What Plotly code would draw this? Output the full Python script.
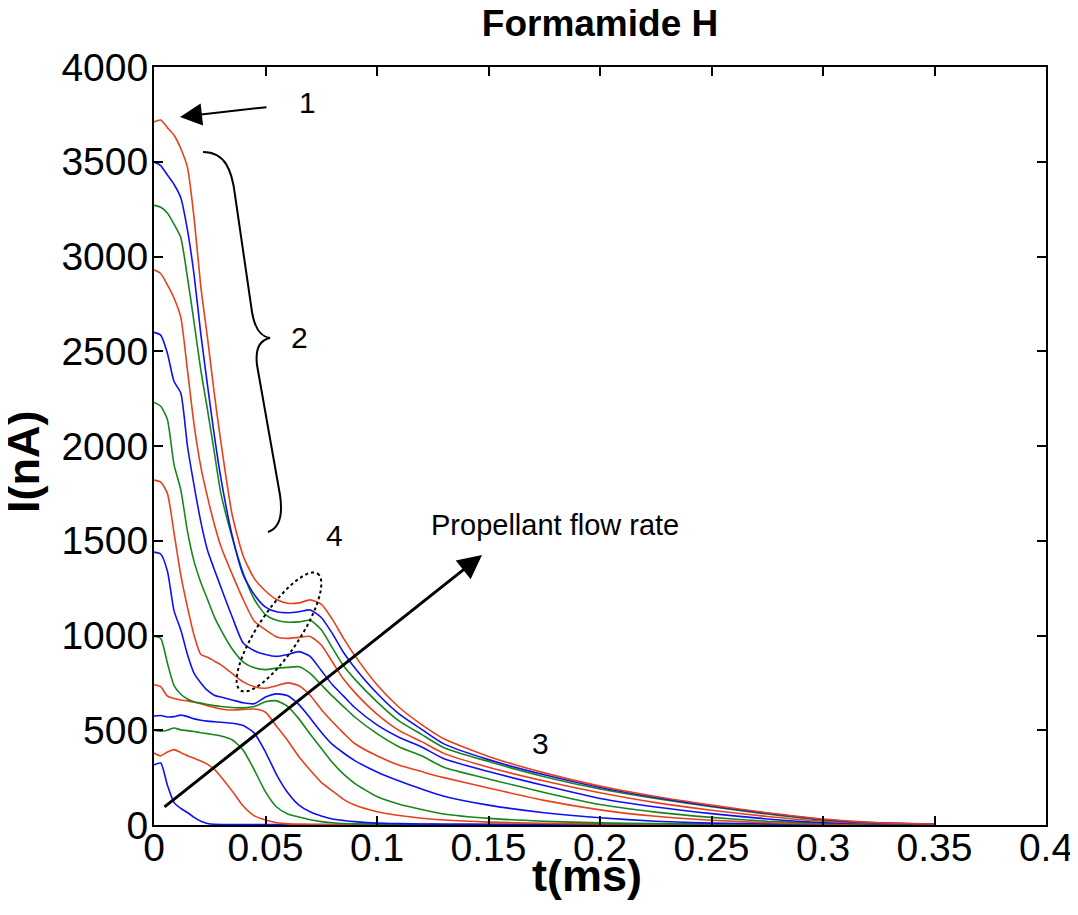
import numpy as np
import plotly.graph_objects as go

# time grid (ms) shared by all traces
t_ms = [0, 0.003, 0.006, 0.009, 0.012, 0.015, 0.018, 0.021, 0.024, 0.027,
        0.03, 0.035, 0.04, 0.045, 0.05, 0.055, 0.06, 0.065, 0.07, 0.075,
        0.08, 0.085, 0.09, 0.1, 0.11, 0.12, 0.13, 0.15, 0.175, 0.2,
        0.225, 0.25, 0.275, 0.3, 0.325, 0.35]

# current traces (nA), highest flow rate first
i01 = [3710, 3720, 3680, 3640, 3570, 3470, 3200, 2840, 2570, 2280,
       2020, 1640, 1420, 1300, 1235, 1190, 1170, 1172, 1188, 1165,
       1085, 985, 895, 740, 620, 530, 455, 362, 275, 205,
       150, 105, 65, 32, 12, 5]
i02 = [3500, 3480, 3430, 3380, 3310, 3140, 2900, 2590, 2320, 2060,
       1830, 1530, 1320, 1215, 1150, 1125, 1120, 1125, 1135, 1095,
       1010, 910, 830, 695, 585, 505, 428, 345, 265, 198,
       145, 100, 62, 29, 11, 5]
i03 = [3270, 3260, 3230, 3170, 3100, 2890, 2650, 2400, 2190, 1970,
       1750, 1520, 1330, 1190, 1110, 1080, 1070, 1072, 1080, 1030,
       935, 840, 770, 650, 548, 478, 408, 335, 255, 190,
       140, 96, 58, 26, 10, 5]
i04 = [2930, 2910, 2850, 2780, 2680, 2400, 2110, 1890, 1730, 1590,
       1470, 1325, 1190, 1075, 1030, 992, 985, 990, 995, 950,
       860, 770, 700, 585, 498, 440, 378, 305, 232, 170,
       118, 78, 45, 20, 8, 4]
i05 = [2600, 2585, 2490, 2340, 2280, 2000, 1790, 1600, 1450, 1350,
       1255, 1100, 960, 920, 900, 890, 900, 915, 890, 815,
       740, 680, 620, 528, 462, 412, 350, 282, 208, 140,
       95, 60, 32, 13, 6, 4]
i06 = [2230, 2210, 2140, 1900, 1770, 1550, 1390, 1280, 1190, 1100,
       1030, 930, 860, 830, 820, 828, 832, 835, 800, 740,
       680, 625, 570, 482, 412, 365, 305, 243, 172, 108,
       68, 40, 20, 9, 5, 3]
i07 = [1820, 1810, 1750, 1540, 1320, 1150, 1000, 900, 885, 865,
       845, 800, 755, 730, 722, 735, 750, 735, 685, 610,
       545, 485, 430, 365, 315, 282, 250, 195, 130, 80,
       46, 25, 12, 6, 4, 3]
i08 = [1440, 1430, 1340, 1130, 1030, 900, 800, 750, 710, 685,
       675, 660, 645, 640, 675, 692, 682, 635, 565, 490,
       425, 380, 340, 280, 232, 190, 152, 105, 65, 38,
       20, 10, 6, 4, 3, 3]
i09 = [995, 985, 855, 735, 690, 665, 650, 643, 636, 630,
       625, 620, 618, 625, 650, 655, 625, 560, 480, 405,
       330, 268, 220, 150, 110, 82, 58, 35, 20, 11,
       7, 5, 4, 3, 3, 3]
i10 = [740, 730, 680, 668, 660, 655, 648, 640, 630, 620,
       612, 607, 610, 612, 595, 520, 445, 360, 290, 225,
       180, 135, 105, 70, 50, 36, 26, 15, 9, 6,
       4, 3, 3, 3, 3, 3]
i11 = [575, 578, 570, 572, 580, 572, 560, 553, 548, 545,
       542, 537, 525, 485, 385, 265, 170, 105, 70, 48,
       32, 24, 18, 10, 7, 5, 4, 3, 3, 3,
       3, 3, 3, 3, 3, 3]
i12 = [500, 495, 500, 512, 502, 498, 493, 487, 482, 476,
       470, 450, 395, 290, 175, 95, 58, 42, 28, 18,
       12, 8, 6, 4, 3, 3, 3, 3, 3, 3,
       3, 3, 3, 3, 3, 3]
i13 = [380, 365, 385, 398, 382, 366, 352, 338, 320, 295,
       255, 180, 100, 48, 26, 12, 6, 4, 3, 3,
       3, 3, 3, 3, 3, 3, 3, 3, 3, 3,
       3, 3, 3, 3, 3, 3]
i14 = [317, 327, 210, 118, 88, 66, 40, 20, 8, 4,
       3, 3, 3, 3, 3, 3, 3, 3, 3, 3,
       3, 3, 3, 3, 3, 3, 3, 3, 3, 3,
       3, 3, 3, 3, 3, 3]

traces = [i01, i02, i03, i04, i05, i06, i07, i08, i09, i10, i11, i12, i13, i14]
palette = ["#e8401c", "#1010f5", "#17861c"]

# plot area in page pixels (the page body adds an 8px offset)
PAD = 8
L, R, T, B = 154, 1046, 67, 825
XMAX, YMAX = 0.4, 4000
W, H = 1078 - PAD, 915 - PAD


def to_data(px, py):
    return (px - L) / (R - L) * XMAX, (B - py) / (B - T) * YMAX


fig = go.Figure()
for k in range(len(traces) - 1, -1, -1):
    fig.add_trace(go.Scatter(
        x=t_ms, y=traces[k], mode="lines",
        line=dict(color=palette[k % 3], width=1.6, shape="spline", smoothing=0.6),
        showlegend=False, hoverinfo="skip",
    ))

font = "Liberation Sans, Arial, sans-serif"
axis = dict(showline=True, linewidth=2, linecolor="black", mirror="ticks",
            ticks="inside", ticklen=9, tickwidth=1.5, tickcolor="black",
            showgrid=False, zeroline=False, automargin=False,
            tickfont=dict(family=font, size=39, color="black"))
fig.update_xaxes(range=[0, XMAX], tick0=0, dtick=0.05, ticklabelstandoff=-13, **axis)
fig.update_yaxes(range=[0, YMAX], tick0=0, dtick=500, ticklabelstandoff=-4, **axis)

annotations = []


def text(px, py, s, size=30):
    x, y = to_data(px, py)
    annotations.append(dict(x=x, y=y, xref="x", yref="y", text=s, showarrow=False,
                            xanchor="center", yanchor="middle",
                            font=dict(family=font, size=size, color="black")))


def arrow(tail, head, width, size):
    ax, ay = to_data(*tail)
    x, y = to_data(*head)
    annotations.append(dict(x=x, y=y, ax=ax, ay=ay, xref="x", yref="y", axref="x", ayref="y",
                            text="", showarrow=True, arrowhead=2, arrowsize=size,
                            arrowwidth=width, arrowcolor="black"))


text(307, 102, "1")
text(299, 337, "2")
text(334, 535, "4")
text(540, 743, "3")
text(555, 525, "Propellant flow rate", size=29)
arrow((268, 107), (180, 117), 2, 2.2)
arrow((163, 808), (482, 555), 3, 1.6)

# axis titles
annotations.append(dict(x=(587 - L) / (R - L), y=(B - 875) / (B - T), xref="paper", yref="paper",
                        xanchor="center", yanchor="middle", text="<b>t(ms)</b>",
                        showarrow=False, font=dict(family=font, size=45, color="black")))
annotations.append(dict(x=(23 - L) / (R - L), y=(B - 462) / (B - T), xref="paper", yref="paper",
                        xanchor="center", yanchor="middle",
                        text="<b>I(nA)</b>", textangle=-90, showarrow=False,
                        font=dict(family=font, size=45, color="black")))

# curly brace "2"
brace_px = [(203, 152), (225, 152), (232, 170), (235, 195), (252, 312), (255, 330), (262, 337),
            (270, 338), (260, 340), (255, 348), (257, 365), (280, 495), (283, 515), (280, 528),
            (268, 532)]
bp = [to_data(*p) for p in brace_px]
seg = lambda p: f"{p[0]:.5f},{p[1]:.2f}"
brace = (f"M {seg(bp[0])} C {seg(bp[1])} {seg(bp[2])} {seg(bp[3])} L {seg(bp[4])} "
         f"C {seg(bp[5])} {seg(bp[6])} {seg(bp[7])} C {seg(bp[8])} {seg(bp[9])} {seg(bp[10])} "
         f"L {seg(bp[11])} C {seg(bp[12])} {seg(bp[13])} {seg(bp[14])}")

# dotted ellipse around the bumps ("4")
u = np.array([0.551, -0.834])
v = np.array([0.834, 0.551])
c = np.array([279, 632])
phi = np.linspace(0, 2 * np.pi, 80)
ell = [to_data(*(c + 70 * np.cos(p) * u + 21 * np.sin(p) * v)) for p in phi]
ellipse = "M " + " L ".join(seg(p) for p in ell) + " Z"

fig.update_layout(
    width=W, height=H, autosize=False,
    margin=dict(l=L - PAD, r=1078 - R, t=T - PAD, b=915 - B),
    plot_bgcolor="white", paper_bgcolor="white",
    title=dict(text="<b>Formamide H</b>", x=0.5, xref="paper", xanchor="center",
               y=1 - (23 - PAD) / H, yref="container", yanchor="middle", automargin=False,
               font=dict(family=font, size=37, color="black")),
    annotations=annotations,
    shapes=[
        dict(type="path", path=brace, xref="x", yref="y", line=dict(color="black", width=2)),
        dict(type="path", path=ellipse, xref="x", yref="y", line=dict(color="black", width=2, dash="dot")),
    ],
)

fig.write_html("out.html")
